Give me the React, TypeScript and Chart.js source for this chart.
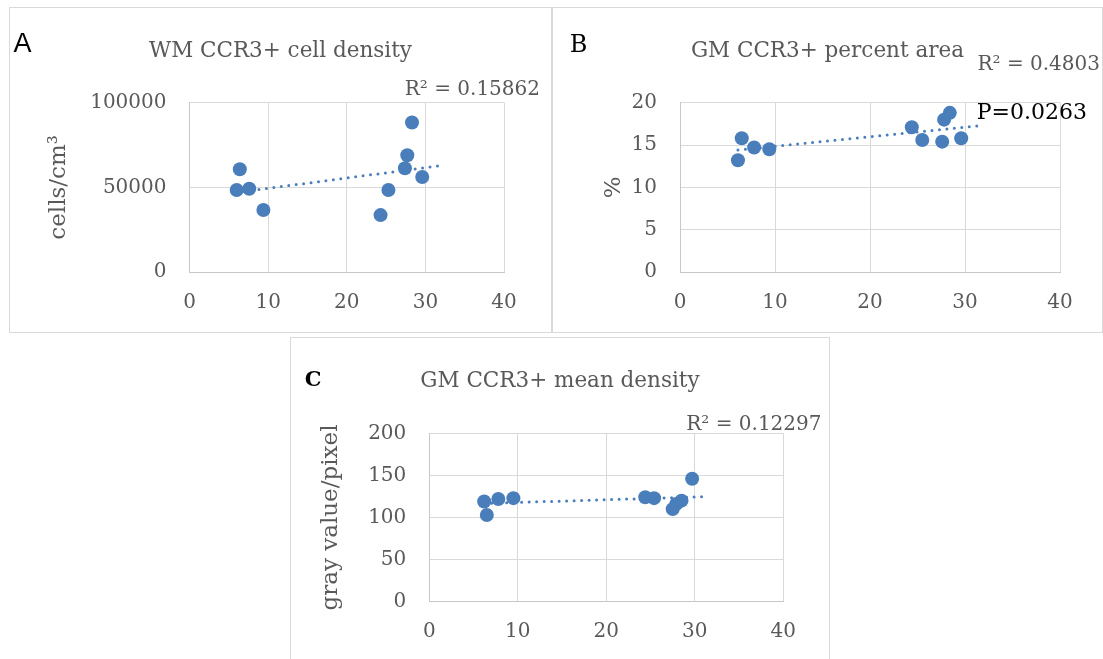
import React, { useEffect, useRef } from "react";
import { Chart, registerables } from "chart.js";

Chart.register(...registerables);

// ---------- data ----------
const xTicks = [0, 10, 20, 30, 40];

// A: WM CCR3+ cell density
const wmX = [6.0, 6.4, 7.6, 9.4, 24.3, 25.3, 27.4, 27.7, 28.3, 29.6];
const wmY = [48400, 60700, 49200, 36600, 33600, 48400, 61300, 69000, 88300, 56100];
const wmTrendX = [6.0, 31.6];
const wmTrendY = [47000, 62600];
const wmYTicks = [0, 50000, 100000];

// B: GM CCR3+ percent area
const paX = [6.1, 6.5, 7.8, 9.4, 24.4, 25.5, 27.6, 27.8, 28.4, 29.6];
const paY = [13.2, 15.8, 14.7, 14.5, 17.1, 15.6, 15.4, 18.0, 18.8, 15.8];
const paTrendX = [6.1, 31.6];
const paTrendY = [14.4, 17.3];
const paYTicks = [0, 5, 10, 15, 20];

// C: GM CCR3+ mean density
const mdX = [6.2, 6.5, 7.8, 9.5, 24.4, 25.4, 27.5, 27.9, 28.5, 29.7];
const mdY = [119, 103, 122, 123, 124, 123, 110, 116, 120, 146];
const mdTrendX = [6.2, 31.6];
const mdTrendY = [116.7, 124.8];
const mdYTicks = [0, 50, 100, 150, 200];

// ---------- styles ----------
const SERIF = '"DejaVu Serif"';
const GRAY = "#595959";
const GRID = "#d9d9d9";
const AXIS = "#c8c8c8";
const BLUE = "#4a7ebb";

Chart.defaults.font.family = SERIF;

type Note = { text: string; x: number; y: number; font: string; color: string; align: CanvasTextAlign };

type Spec = {
  title: string;
  yTitle: string;
  xs: number[];
  ys: number[];
  tx: number[];
  ty: number[];
  yTicks: number[];
  width: number;
  height: number;
  area: { left: number; right: number; top: number; bottom: number };
  yTitlePad: number;
  notes: Note[];
};

const specA: Spec = {
  title: "WM CCR3+ cell density",
  yTitle: "cells/cm³",
  xs: wmX,
  ys: wmY,
  tx: wmTrendX,
  ty: wmTrendY,
  yTicks: wmYTicks,
  width: 543,
  height: 326,
  area: { left: 180.5, right: 495, top: 95.7, bottom: 265 },
  yTitlePad: 36,
  notes: [
    { text: "A", x: 4.5, y: 44.7, font: '27px "Liberation Sans"', color: "#000", align: "left" },
    { text: "R² = 0.15862", x: 531, y: 88, font: `20px ${SERIF}`, color: GRAY, align: "right" },
  ],
};

const specB: Spec = {
  title: "GM CCR3+ percent area",
  yTitle: "%",
  xs: paX,
  ys: paY,
  tx: paTrendX,
  ty: paTrendY,
  yTicks: paYTicks,
  width: 551,
  height: 326,
  area: { left: 128, right: 508, top: 95.7, bottom: 265 },
  yTitlePad: 48,
  notes: [
    { text: "B", x: 17.8, y: 44.7, font: `24px ${SERIF}`, color: "#000", align: "left" },
    { text: "R² = 0.4803", x: 548, y: 63, font: `20px ${SERIF}`, color: GRAY, align: "right" },
    { text: "P=0.0263", x: 424.7, y: 112.3, font: `22px ${SERIF}`, color: "#000", align: "left" },
  ],
};

const specC: Spec = {
  title: "GM CCR3+ mean density",
  yTitle: "gray value/pixel",
  xs: mdX,
  ys: mdY,
  tx: mdTrendX,
  ty: mdTrendY,
  yTicks: mdYTicks,
  width: 540,
  height: 326,
  area: { left: 139.3, right: 493.3, top: 96.3, bottom: 264.7 },
  yTitlePad: 27.5,
  notes: [
    { text: "C", x: 14.7, y: 48.7, font: `bold 21px ${SERIF}`, color: "#000", align: "left" },
    { text: "R² = 0.12297", x: 531.5, y: 93, font: `20px ${SERIF}`, color: GRAY, align: "right" },
  ],
};

function makeConfig(spec: Spec): any {
  const { area, width, height } = spec;
  const titleSize = 21.5;
  const titleLine = titleSize * 1.2;
  const titlePadTop = 44.4 - titleLine / 2;
  const notesPlugin = {
    id: "notes",
    afterDraw(chart: any) {
      const ctx = chart.ctx;
      ctx.save();
      ctx.textBaseline = "alphabetic";
      for (const n of spec.notes) {
        ctx.font = n.font;
        ctx.fillStyle = n.color;
        ctx.textAlign = n.align;
        ctx.fillText(n.text, n.x, n.y);
      }
      ctx.restore();
    },
  };
  return {
    type: "scatter",
    data: {
      datasets: [
        {
          data: spec.tx.map((x, i) => ({ x, y: spec.ty[i] })),
          showLine: true,
          borderColor: BLUE,
          borderWidth: 3,
          borderDash: [0, 7.5],
          borderCapStyle: "round",
          pointRadius: 0,
          pointHoverRadius: 0,
          fill: false,
          order: 0,
        },
        {
          data: spec.xs.map((x, i) => ({ x, y: spec.ys[i] })),
          backgroundColor: BLUE,
          borderColor: BLUE,
          borderWidth: 0,
          pointRadius: 7,
          pointHoverRadius: 7,
          order: 1,
        },
      ],
    },
    options: {
      animation: false,
      responsive: false,
      events: [],
      layout: { padding: 0 },
      plugins: {
        legend: { display: false },
        tooltip: { enabled: false },
        title: {
          display: true,
          text: spec.title,
          color: GRAY,
          font: { family: SERIF, size: titleSize, weight: "normal", lineHeight: 1.2 },
          padding: { top: titlePadTop, bottom: area.top - titlePadTop - titleLine },
        },
      },
      scales: {
        x: {
          type: "linear",
          min: xTicks[0],
          max: xTicks[xTicks.length - 1],
          ticks: {
            stepSize: xTicks[1] - xTicks[0],
            padding: 18.5,
            color: GRAY,
            font: { family: SERIF, size: 20 },
            callback: (v: number) => String(v),
          },
          grid: { color: GRID, drawTicks: false, lineWidth: 1 },
          border: { color: AXIS, width: 1 },
          afterFit: (s: any) => {
            s.height = height - area.bottom;
          },
        },
        y: {
          type: "linear",
          min: spec.yTicks[0],
          max: spec.yTicks[spec.yTicks.length - 1],
          ticks: {
            stepSize: spec.yTicks[1] - spec.yTicks[0],
            padding: 23,
            color: GRAY,
            font: { family: SERIF, size: 20 },
            callback: (v: number) => String(v),
          },
          grid: { color: GRID, drawTicks: false, lineWidth: 1 },
          border: { color: AXIS, width: 1 },
          title: {
            display: true,
            text: spec.yTitle,
            color: GRAY,
            font: { family: SERIF, size: 23, lineHeight: 1.2 },
            padding: { top: spec.yTitlePad, bottom: 0 },
          },
          afterFit: (s: any) => {
            s.width = area.left;
          },
        },
        spacer: {
          type: "linear",
          position: "right",
          display: true,
          grid: { display: false, drawTicks: false },
          ticks: { display: false },
          border: { display: false },
          afterFit: (s: any) => {
            s.width = width - area.right;
          },
        },
      },
    },
    plugins: [notesPlugin],
  };
}

function Panel({ spec, left, top }: { spec: Spec; left: number; top: number }) {
  const ref = useRef<HTMLCanvasElement>(null);
  useEffect(() => {
    const chart = new Chart(ref.current as HTMLCanvasElement, makeConfig(spec));
    return () => chart.destroy();
  }, [spec]);
  return (
    <div style={{ position: "absolute", left, top, width: spec.width, height: spec.height }}>
      <canvas
        ref={ref}
        width={spec.width}
        height={spec.height}
        style={{ display: "block", width: spec.width, height: spec.height }}
      />
      <div
        style={{
          position: "absolute",
          left: 0,
          top: 0,
          width: spec.width,
          height: spec.height,
          border: "1px solid #d9d9d9",
          boxSizing: "border-box",
          pointerEvents: "none",
        }}
      />
    </div>
  );
}

export default function App() {
  return (
    <div
      style={{
        position: "absolute",
        left: 0,
        top: 0,
        width: 1103,
        height: 659,
        overflow: "hidden",
        background: "#fff",
      }}
    >
      <Panel spec={specA} left={9} top={7} />
      <Panel spec={specB} left={552} top={7} />
      <Panel spec={specC} left={290} top={337} />
    </div>
  );
}
